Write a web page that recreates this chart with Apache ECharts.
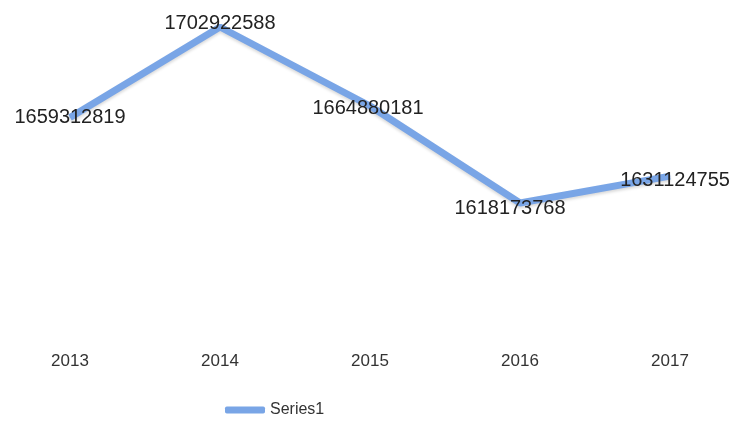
<!DOCTYPE html>
<html>
<head>
<meta charset="utf-8">
<script src="https://cdn.jsdelivr.net/npm/echarts@6/dist/echarts.min.js"></script>
<style>html,body{margin:0;padding:0;background:#fff;}#c{width:736px;height:423px;}</style>
</head>
<body>
<div id="c"></div>
<script>
const categories = ['2013', '2014', '2015', '2016', '2017'];
const seriesName = 'Series1';
const values = [1659312819, 1702922588, 1664880181, 1618173768, 1631124755];

// small label nudges (styling only)
const labelNudges = [[0, 0], [0, -3], [-2, 2], [-10, 5], [5, 4]];

const chart = echarts.init(document.getElementById('c'));
chart.setOption({
  backgroundColor: '#ffffff',
  animation: false,
  grid: { left: 70, right: 66, top: 10, bottom: 73 },
  legend: {
    bottom: 0,
    left: 220,
    data: [seriesName],
    itemWidth: 40,
    itemHeight: 7,
    itemGap: 4,
    icon: 'roundRect',
    textStyle: { fontFamily: 'Liberation Sans', fontSize: 16, color: '#333' }
  },
  xAxis: {
    type: 'category',
    data: categories,
    boundaryGap: false,
    axisLine: { show: false },
    axisTick: { show: false },
    axisLabel: { fontFamily: 'Liberation Sans', fontSize: 17, color: '#333', margin: 3 }
  },
  yAxis: {
    type: 'value',
    min: 1547400000,
    max: 1711100000,
    show: false,
    splitLine: { show: false }
  },
  series: [{
    name: seriesName,
    type: 'line',
    data: values.map((v, i) => ({ value: v, label: { offset: labelNudges[i] } })),
    showSymbol: true,
    symbol: 'circle',
    symbolSize: 1,
    lineStyle: { color: '#79a5e6', width: 7, shadowColor: 'rgba(0,0,0,0.15)', shadowBlur: 3, shadowOffsetY: 2 },
    itemStyle: { color: '#79a5e6' },
    label: {
      show: true,
      position: 'inside',
      fontFamily: 'Liberation Sans',
      fontSize: 20,
      color: '#222'
    }
  }]
});
</script>
</body>
</html>
